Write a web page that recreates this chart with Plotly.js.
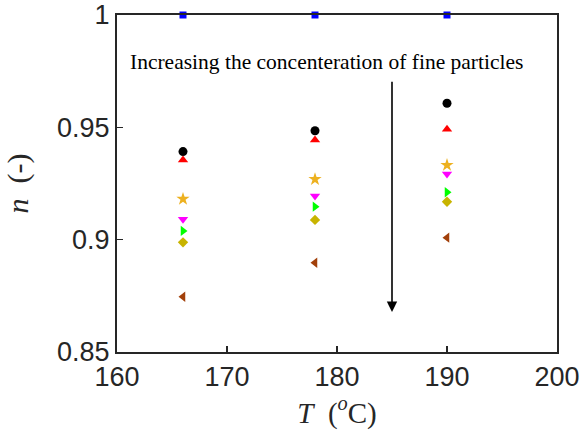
<!DOCTYPE html>
<html><head><meta charset="utf-8">
<script src="https://cdn.plot.ly/plotly-3.0.1.min.js"></script>
<style>html,body{margin:0;padding:0;background:#fff}#c{width:582px;height:436px}</style>
</head><body><div id="c"></div>
<script>
const T = [166, 178, 190];
const seriesBlue = [1, 1, 1];
const seriesBlack = [0.9392, 0.9485, 0.9607];
const seriesRed = [0.9355, 0.9444, 0.9491];
const seriesStar = [0.9181, 0.9269, 0.9332];
const seriesMagenta = [0.9091, 0.9194, 0.9292];
const seriesGreen = [0.9039, 0.9147, 0.9211];
const seriesDiamond = [0.8988, 0.9088, 0.9169];
const seriesBrown = [0.8746, 0.8897, 0.9009];
const xTicks = [160, 170, 180, 190, 200];
const yTicks = [0.85, 0.9, 0.95, 1];
const yTickText = ['0.85', '0.9', '0.95', '1'];

const defs = [
  [seriesBlue, 'square', '#0000ff', 7],
  [seriesBlack, 'circle', '#000000', 9],
  [seriesRed, 'triangle-up', '#ff0000', 9],
  [seriesStar, 'star', '#EDB120', 10],
  [seriesMagenta, 'triangle-down', '#ff00ff', 9],
  [seriesGreen, 'triangle-right', '#00ff00', 9],
  [seriesDiamond, 'diamond', '#C8B400', 8],
  [seriesBrown, 'triangle-left', '#A2400A', 9]
];
const traces = defs.map(d => ({
  x: T, y: d[0], type: 'scatter', mode: 'markers', cliponaxis: false,
  marker: {symbol: d[1], color: d[2], size: d[3], line: {width: 0}},
  showlegend: false, hoverinfo: 'skip'
}));

const axisFont = {family: 'Liberation Sans, Arial, sans-serif', size: 27, color: '#262626'};
const serif = 'Liberation Serif, Times New Roman, serif';
const layout = {
  width: 582, height: 436,
  margin: {l: 117, r: 25, t: 15, b: 84},
  paper_bgcolor: '#fff', plot_bgcolor: '#fff',
  xaxis: {
    range: [160, 200], tickvals: xTicks, ticktext: xTicks.map(String),
    ticks: 'inside', ticklen: 6, tickwidth: 1.5, tickcolor: '#262626',
    showline: true, linecolor: '#262626', linewidth: 2, mirror: true,
    showgrid: false, zeroline: false, tickfont: axisFont,
    title: {text: '<i>T</i>  (<sup><i>o</i></sup>C)', font: {family: serif, size: 29, color: '#262626'}, standoff: 0}
  },
  yaxis: {
    range: [0.85, 1], tickvals: yTicks, ticktext: yTickText,
    ticks: 'inside', ticklen: 6, tickwidth: 1.5, tickcolor: '#262626',
    showline: true, linecolor: '#262626', linewidth: 2, mirror: true,
    showgrid: false, zeroline: false, tickfont: axisFont,
    title: {text: '<i>n</i>  (-)', font: {family: serif, size: 30, color: '#262626'}, standoff: 20}
  },
  annotations: [
    {x: 179.0, y: 0.979, xref: 'x', yref: 'y', showarrow: false,
     text: 'Increasing the concenteration of fine particles',
     font: {family: serif, size: 21.5, color: '#000'}},
    {x: 185, y: 0.8678, xref: 'x', yref: 'y', ax: 185, ay: 0.971, axref: 'x', ayref: 'y',
     showarrow: true, arrowhead: 2, arrowsize: 1.3, arrowwidth: 1.6, arrowcolor: '#000', text: ''}
  ]
};
Plotly.newPlot('c', traces, layout, {staticPlot: true, displayModeBar: false});
</script></body></html>
